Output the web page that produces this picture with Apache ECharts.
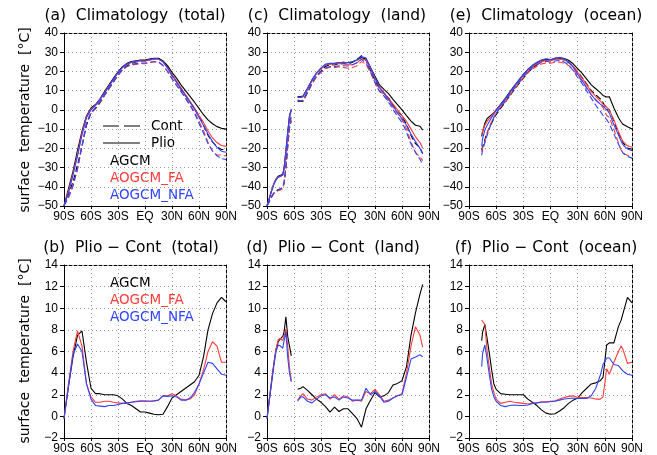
<!DOCTYPE html>
<html><head><meta charset="utf-8">
<script src="https://cdn.jsdelivr.net/npm/echarts@6/dist/echarts.min.js"></script>
<style>html,body{margin:0;padding:0;background:#fff}#c{width:657px;height:455px}</style>
</head><body><div id="c"></div>
<script>
// ---------- tick labels ----------
const X_LABELS = ['90S','60S','30S','EQ','30N','60N','90N'];
const TITLES = ['(a)  Climatology  (total)','(c)  Climatology  (land)','(e)  Climatology  (ocean)',
                '(b)  Plio \u2212 Cont  (total)','(d)  Plio \u2212 Cont  (land)','(f)  Plio \u2212 Cont  (ocean)'];
const MODELS = ['AGCM','AOGCM_FA','AOGCM_NFA'];

// ---------- latitude grids ----------
const LAT_T = [-90,-85,-80,-75,-70,-65,-60,-55,-50,-45,-40,-35,-30,-25,-20,-15,-10,-5,0,5,10,15,20,25,30,35,40,45,50,55,60,65,70,75,80,85,90];
const LAT_L = [-90,-87.5,-85,-82.5,-80,-77.5,-75,-72.5,-71,-69,-67,-65,-63,-60,-56,-52.5,-50,-45,-40,-35,-30,-25,-20,-15,-10,-5,0,5,10,15,20,25,30,35,40,45,50,55,60,65,70,75,80,83];
const LAT_O = [-76,-75,-72.5,-70,-67.5,-65,-62.5,-60,-55,-50,-45,-40,-35,-30,-25,-20,-15,-10,-5,0,5,10,15,20,25,30,35,40,45,50,55,58,62,65,70,75,78,80,85,90];

// ---------- (a) climatology total ----------
const aAgcmPlio = [-50,-41,-32,-21,-11,-3,1,2.8,5.8,9.5,13,16.5,19.8,22.5,24.2,25.2,25.6,25.9,25.9,26.4,26.9,26.9,25.5,23,19.5,16.5,13,10,7,4,0.8,-2.5,-5.2,-7.2,-8.7,-9.6,-10];
const aAgcmCont = [-49.8,-43.8,-37.5,-28.5,-18.9,-8,-1.6,0.7,3.7,7.5,11,14.5,17.9,20.9,23,24.2,24.9,25.5,25.5,26.1,26.7,26.75,25.3,22.1,17.8,14.5,10.7,7.4,4.1,0.8,-3,-8,-13.2,-16.7,-19.2,-20.6,-20.6];
const aFaPlio   = [-50,-42,-33,-23,-12,-3.5,0.5,2.5,5.5,9,12.5,16,19.3,22,23.7,24.7,25.1,25.4,25.5,25.9,26.4,26.4,25,22,18.5,15,11.5,8,4.5,1,-3,-6.5,-11,-14.5,-17,-18.5,-19];
const aFaCont   = [-49.8,-45,-39,-30.9,-18.5,-6.5,-1.3,1.2,4.2,7.6,11.1,14.7,18.05,20.8,22.5,23.4,23.7,23.95,24.05,24.5,25,24.9,23.1,20.1,16.4,13.1,9.9,6.5,2.9,-1,-6,-10.8,-17,-21.4,-23.5,-23.5,-24];
const aNfaPlio  = [-50,-43,-34,-24,-13,-4,0,2.3,5.3,8.8,12.3,16,19.3,22.2,23.9,24.9,25.4,25.7,25.8,26.1,26.6,26.5,25,21.8,18,14.5,11,7.5,4,0.5,-4,-8,-12.5,-16.5,-19.5,-21.5,-22];
const aNfaCont  = [-49.8,-45.8,-39.7,-30.7,-19,-7,-1.6,1.3,4.35,7.9,11.3,15,18.2,21,22.65,23.6,24.05,24.3,24.4,24.7,25.15,25,23.1,19.95,16.1,12.7,9.5,6,2.3,-1.7,-7,-12,-17.5,-21.4,-23.9,-25.4,-25.8];

// ---------- (b) difference total ----------
const bAgcm = [-0.2,2.8,5.5,7.5,7.9,5,2.6,2.1,2.1,2.0,2.0,2.0,1.9,1.6,1.2,1.0,0.7,0.4,0.4,0.3,0.2,0.15,0.2,0.9,1.7,2.0,2.3,2.6,2.9,3.2,3.8,5.5,8.0,9.5,10.5,11.0,10.6];
const bFa   = [-0.2,3,6,7.9,6.5,3.0,1.8,1.3,1.3,1.4,1.4,1.3,1.25,1.2,1.2,1.3,1.4,1.45,1.45,1.4,1.4,1.5,1.9,1.9,2.1,1.9,1.6,1.5,1.6,2.0,3.0,4.3,6.0,6.9,6.5,5.0,5.0];
const bNfa  = [-0.2,2.8,5.7,6.7,6.0,3.0,1.6,1.0,0.95,0.9,1.0,1.0,1.1,1.2,1.25,1.3,1.35,1.4,1.4,1.4,1.45,1.5,1.9,1.85,1.9,1.8,1.5,1.5,1.7,2.2,3.0,4.0,5.0,4.9,4.4,3.9,3.8];

// ---------- (c) climatology land ----------
const cAgcmPlio = [-50,-46,-42,-38.5,-36,-34.5,-34,-33.5,-30,-21.5,-12,-3,0,null,7,7,7.2,11.3,15.6,19,21.5,23.5,24,24.2,24.5,24.8,24.5,25,26,27.2,26.5,22,17.5,13,10.7,8.5,5.5,2.7,0,-3,-5.8,-8,-8.5,-10.5];
const cAgcmCont = [-49.8,-47.5,-45.2,-43.3,-42.2,-41.4,-41.2,-40.9,-37.8,-30.7,-19.4,-9.5,-5.6,null,4.5,4.4,4.45,8.9,13.6,17.4,20.2,22.6,23.6,23.35,24.05,24.1,23.8,24.75,26.2,28.2,25.8,20.5,15.3,11.2,8.8,6.3,2.6,-0.35,-3.3,-7.6,-13.3,-17.6,-19.8,-22.7];
const cFaPlio   = [-50,-46,-42,-38.5,-36.2,-35,-34.5,-34,-31,-22,-13,-4,-0.5,null,6.5,6.5,6.8,11,15.2,19,21.5,23.5,23.8,24,24,24,23.5,23.5,24.5,26.5,26,21.5,16.5,12,9,6,3,0,-3,-6,-10,-14,-17,-20];
const cFaCont   = [-49.8,-47.5,-45.2,-43.3,-42.4,-42.1,-41.7,-41,-38.4,-30.1,-19.5,-8.5,-3.8,null,5,4.6,4.7,9.4,13.7,17.2,19.5,21.4,22.2,22,22.4,22.1,21.7,22.1,23,25.1,23.7,19.4,14,10,7.6,4.5,1.3,-1.9,-5.1,-10,-16.5,-22.3,-24.5,-26.4];
const cNfaPlio  = [-50,-46.5,-42.5,-39,-36.5,-35,-34.5,-34,-30.5,-21,-11.5,-3.5,0.5,null,6.5,6.5,6.8,11,15.5,19.3,21.8,23.8,24.2,24.3,24.5,24.8,24.5,25,26,27.8,27,22,16.5,11.5,8.5,5.5,2,-1.5,-4.5,-8,-12.5,-16.5,-20,-23];
const cNfaCont  = [-49.8,-47.9,-45.5,-43.6,-42.5,-41.6,-41,-40.3,-37.5,-28.8,-17,-7.5,-2.7,null,5.1,4.7,5,9.6,14.25,17.7,19.9,21.8,22.5,22.5,23,23,22.8,23.5,24.5,26.3,24.4,20,14.2,9.6,7.2,4.1,0.3,-3.4,-6.5,-11.6,-17.8,-22,-25.7,-28.5];

// ---------- (d) difference land ----------
const dAgcm = [-0.2,1.5,3.2,4.8,6.2,6.9,7.2,7.4,7.8,9.2,7.4,6.5,5.6,null,2.5,2.6,2.75,2.4,2.0,1.6,1.3,0.9,0.4,0.85,0.45,0.7,0.7,0.25,-0.2,-1.0,0.7,1.5,2.2,1.8,1.9,2.2,2.9,3.05,3.3,4.6,7.5,9.6,11.3,12.2];
const dFa   = [-0.2,1.5,3.2,4.8,6.2,7.1,7.2,7.0,7.4,8.1,6.5,4.5,3.3,null,1.5,1.9,2.1,1.6,1.5,1.8,2.0,2.1,1.6,2.0,1.6,1.9,1.8,1.4,1.5,1.4,2.3,2.1,2.5,2.0,1.4,1.5,1.7,1.9,2.1,4.0,6.5,8.3,7.5,6.4];
const dNfa  = [-0.2,1.4,3.0,4.6,6.0,6.6,6.5,6.3,7.0,7.8,5.5,4.0,3.2,null,1.4,1.8,1.8,1.4,1.25,1.6,1.9,2.0,1.7,1.8,1.5,1.8,1.7,1.5,1.5,1.5,2.6,2.0,2.3,1.9,1.3,1.4,1.7,1.9,2.0,3.6,5.3,5.5,5.7,5.5];

// ---------- (e) climatology ocean ----------
const eAgcmPlio = [-13.8,-11.5,-7,-4.5,-3.5,-2.5,-1.5,0,3,6,9.3,12.5,15.5,18.5,21,23,24.5,25.8,26.3,26,26.8,27.2,26.7,25.8,24,21.5,19,16,13,11,9,7.5,6.7,6.8,1,-4,-6.3,-7.5,-8.8,-10];
const eAgcmCont = [-20.8,-19.3,-15.5,-11.7,-9.3,-6.8,-4.5,-2.5,0.9,3.95,7.3,10.5,13.5,16.5,19.4,21.7,23.5,25.2,26,25.8,26.55,26.7,25.9,24.6,22.5,19.8,16.8,13.4,10,7.9,5.7,3.9,0.1,0,-5.8,-12.3,-15.2,-17,-19.8,-20.5];
const eFaPlio   = [-13,-11,-8,-6,-4.5,-3,-1.5,0,2.8,5.5,8.8,12,15,18,20.5,22.5,24,25.2,25.8,25.7,26.2,26.5,26,25,22.8,19.5,16.5,13,9.5,7,4.5,3,1.5,0,-5.2,-11.2,-14.5,-16.4,-18.7,-19.4];
const eFaCont   = [-21.9,-19.85,-16.5,-12,-9,-6,-3.7,-1.6,1.6,4.2,7.4,10.7,13.75,16.8,19.35,21.3,22.75,23.85,24.45,24.3,24.75,24.9,24.25,23.15,20.9,17.75,14.75,11.25,7.8,5.4,2.9,1.2,-2.9,-3.9,-10.2,-17.2,-21,-22.6,-23.6,-24.4];
const eNfaPlio  = [-19,-15,-10.5,-8,-6,-4,-2,-0.3,2.6,5.6,9,12.3,15.3,18.3,21,23.2,24.8,26,26.6,26.2,26.8,27.3,26.5,25,22.2,18.5,15.3,11.5,8,5,3,2,0.3,-1.7,-7.8,-13,-16.3,-18.2,-20.3,-21.3];
const eNfaCont  = [-23.6,-20.8,-17.1,-13.3,-9.8,-6.5,-3.8,-1.7,1.6,4.7,8,11.25,14.3,17.3,19.95,22,23.55,24.7,25.3,24.85,25.4,25.8,24.9,23.35,20.5,16.85,13.65,9.85,6.1,2.4,-0.8,-2.8,-5.1,-7.1,-12.6,-17.7,-20.7,-22.4,-24.2,-25.1];

// ---------- (f) difference ocean ----------
const fAgcm = [7.0,7.8,8.5,7.2,5.8,4.3,3.0,2.5,2.1,2.05,2.0,2.0,2.0,2.0,1.6,1.3,1.0,0.6,0.3,0.2,0.25,0.5,0.8,1.2,1.5,1.7,2.2,2.6,3.0,3.1,3.3,3.6,6.6,6.8,6.8,8.3,8.9,9.5,11,10.5];
const fFa   = [8.9,8.85,8.5,6.0,4.5,3.0,2.2,1.6,1.2,1.3,1.4,1.3,1.25,1.2,1.15,1.2,1.25,1.35,1.35,1.4,1.45,1.6,1.75,1.85,1.9,1.75,1.75,1.75,1.7,1.6,1.6,1.8,4.4,3.9,5.0,6.0,6.5,6.2,4.9,5.0];
const fNfa  = [4.6,5.8,6.6,5.3,3.8,2.5,1.8,1.4,1.0,0.9,1.0,1.05,1.0,1.0,1.05,1.2,1.25,1.3,1.3,1.35,1.4,1.5,1.6,1.65,1.7,1.65,1.65,1.65,1.9,2.6,3.8,4.8,5.4,5.4,4.8,4.7,4.4,4.2,3.9,3.8];

// ---------- styling ----------
const COLORS = ['#000000', '#ff3a3a', '#2f44ff'];
const TICK_FONT = '"Liberation Sans Narrow","Liberation Sans",sans-serif';
const TXT_FONT = '"DejaVu Sans",sans-serif';

const PANELS = [
  {left:64,  top:33,  w:162, h:173, ymin:-50, ymax:40, yint:10},
  {left:267, top:33,  w:162, h:173, ymin:-50, ymax:40, yint:10},
  {left:469, top:33,  w:163, h:173, ymin:-50, ymax:40, yint:10},
  {left:64,  top:265, w:162, h:173, ymin:-2,  ymax:14, yint:2},
  {left:267, top:265, w:162, h:173, ymin:-2,  ymax:14, yint:2},
  {left:469, top:265, w:163, h:173, ymin:-2,  ymax:14, yint:2}
];
const TITLE_POS = [[135,16],[337,16],[546,16],[131,248],[333,248],[546,248]];

const grids = [], xAxes = [], yAxes = [], series = [];
const dotted = {show:true, lineStyle:{color:'#9a9a9a', type:[1,3], width:1}, showMinLine:false, showMaxLine:false};
const fmtY = v => v < 0 ? '\u2212' + (-v) : String(v);
PANELS.forEach((p, i) => {
  grids.push({left:p.left, top:p.top, width:p.w, height:p.h, containLabel:false});
  xAxes.push({type:'value', gridIndex:i, min:-90, max:90, interval:30, position:'bottom',
    axisLine:{show:true, onZero:false, lineStyle:{color:'#000', width:1}},
    axisTick:{show:true, length:3, lineStyle:{color:'#000'}},
    axisLabel:{show:true, margin:5, color:'#000', fontFamily:TICK_FONT, fontSize:12, showMinLabel:true, showMaxLabel:true,
      formatter: v => X_LABELS[Math.round((v + 90) / 30)]},
    splitLine:dotted});
  xAxes.push({type:'value', gridIndex:i, min:-90, max:90, interval:30, position:'top',
    axisLine:{show:true, onZero:false, lineStyle:{color:'#000', width:1, type:[3,2]}},
    axisTick:{show:false}, axisLabel:{show:false}, splitLine:{show:false}});
  yAxes.push({type:'value', gridIndex:i, min:p.ymin, max:p.ymax, interval:p.yint, position:'left',
    axisLine:{show:true, onZero:false, lineStyle:{color:'#000', width:1}},
    axisTick:{show:true, length:4, lineStyle:{color:'#000'}},
    axisLabel:{show:true, margin:6, color:'#000', fontFamily:TICK_FONT, fontSize:12, showMinLabel:true, showMaxLabel:true, formatter:fmtY},
    splitLine:dotted});
  yAxes.push({type:'value', gridIndex:i, min:p.ymin, max:p.ymax, interval:p.yint, position:'right',
    axisLine:{show:true, onZero:false, lineStyle:{color:'#000', width:1, type:[3,2]}},
    axisTick:{show:false}, axisLabel:{show:false}, splitLine:{show:false}});
});

function addLine(gi, lat, vals, color, dashed) {
  series.push({type:'line', xAxisIndex:2*gi, yAxisIndex:2*gi,
    data: lat.map((x, k) => [x, vals[k]]),
    symbol:'none', showSymbol:false, connectNulls:false, animation:false, silent:true,
    lineStyle:{color:color, width:1.1, type: dashed ? [6,3] : 'solid'}});
}
const CLIM = [
  [0, LAT_T, [[aAgcmCont, aAgcmPlio],[aFaCont, aFaPlio],[aNfaCont, aNfaPlio]]],
  [1, LAT_L, [[cAgcmCont, cAgcmPlio],[cFaCont, cFaPlio],[cNfaCont, cNfaPlio]]],
  [2, LAT_O, [[eAgcmCont, eAgcmPlio],[eFaCont, eFaPlio],[eNfaCont, eNfaPlio]]]
];
CLIM.forEach(([gi, lat, sets]) => {
  sets.forEach((pair, m) => { addLine(gi, lat, pair[0], COLORS[m], true); addLine(gi, lat, pair[1], COLORS[m], false); });
});
const DIFF = [
  [3, LAT_T, [bAgcm, bFa, bNfa]],
  [4, LAT_L, [dAgcm, dFa, dNfa]],
  [5, LAT_O, [fAgcm, fFa, fNfa]]
];
DIFF.forEach(([gi, lat, sets]) => { sets.forEach((v, m) => addLine(gi, lat, v, COLORS[m], false)); });

// ---------- texts ----------
const graphic = [];
TITLES.forEach((t, i) => graphic.push({type:'text', x:TITLE_POS[i][0], y:TITLE_POS[i][1],
  style:{text:t, font:'15.5px ' + TXT_FONT, fill:'#000', textAlign:'center', textVerticalAlign:'middle'}}));
[[25,120],[25,351]].forEach(([x, y]) => graphic.push({type:'text', x:x, y:y, rotation:Math.PI/2,
  style:{text:'surface  temperature  [\u00B0C]', font:'14px ' + TXT_FONT, fill:'#000', textAlign:'center', textVerticalAlign:'middle'}}));
// legend (a)
graphic.push({type:'line', shape:{x1:103, y1:126, x2:140, y2:126}, style:{stroke:'#000', lineWidth:1.2, lineDash:[16,5]}});
graphic.push({type:'line', shape:{x1:103, y1:143, x2:140, y2:143}, style:{stroke:'#000', lineWidth:1.2}});
graphic.push({type:'text', x:151, y:126, style:{text:'Cont', font:'13.5px ' + TXT_FONT, fill:'#000', textAlign:'left', textVerticalAlign:'middle'}});
graphic.push({type:'text', x:151, y:143, style:{text:'Plio', font:'13.5px ' + TXT_FONT, fill:'#000', textAlign:'left', textVerticalAlign:'middle'}});
[[161,178,195],[283,300.5,317.5]].forEach(ys => {
  MODELS.forEach((m, k) => graphic.push({type:'text', x:110, y:ys[k],
    style:{text:m, font:'13.5px ' + TXT_FONT, fill:COLORS[k], textAlign:'left', textVerticalAlign:'middle'}}));
});

const chart = echarts.init(document.getElementById('c'), null, {renderer:'canvas'});
chart.setOption({animation:false, backgroundColor:'#fff', grid:grids, xAxis:xAxes, yAxis:yAxes, series:series, graphic:graphic});
</script>
</body></html>
